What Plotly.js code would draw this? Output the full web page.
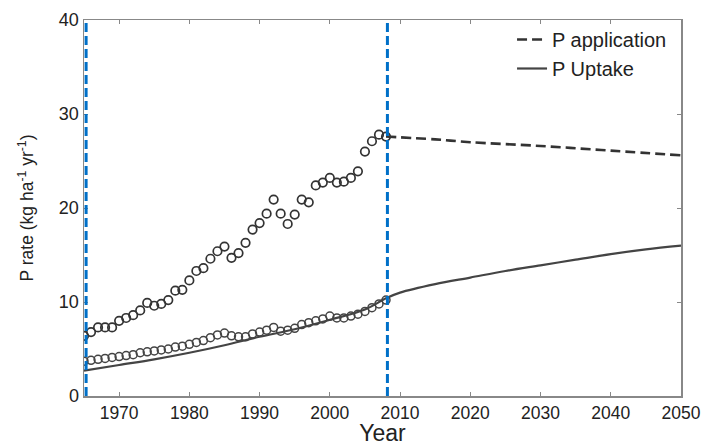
<!DOCTYPE html>
<html>
<head>
<meta charset="utf-8">
<script src="https://cdn.plot.ly/plotly-3.0.1.min.js"></script>
<style>html,body{margin:0;padding:0;background:#fff;}#chart{width:710px;height:446px;}</style>
</head>
<body>
<div id="chart"></div>
<script>
// Observed years
var obsYears = [1965,1966,1967,1968,1969,1970,1971,1972,1973,1974,1975,1976,1977,1978,1979,1980,1981,1982,1983,1984,1985,1986,1987,1988,1989,1990,1991,1992,1993,1994,1995,1996,1997,1998,1999,2000,2001,2002,2003,2004,2005,2006,2007,2008];
// Observed P application (upper circles)
var obsApplication = [6.4,6.8,7.3,7.3,7.3,8.0,8.3,8.6,9.1,9.9,9.6,9.8,10.2,11.2,11.3,12.3,13.3,13.6,14.6,15.4,15.9,14.7,15.2,16.3,17.7,18.4,19.4,20.9,19.4,18.3,19.3,20.9,20.6,22.4,22.7,23.2,22.7,22.8,23.2,23.9,26.0,27.1,27.8,27.6];
// Observed P uptake (lower circles)
var obsUptake = [3.7,3.8,3.9,4.0,4.1,4.2,4.3,4.4,4.6,4.7,4.8,4.9,5.0,5.2,5.3,5.5,5.7,5.9,6.2,6.5,6.7,6.4,6.3,6.3,6.6,6.8,7.0,7.3,6.9,7.0,7.2,7.6,7.8,8.0,8.2,8.5,8.3,8.3,8.5,8.7,9.0,9.4,9.8,10.2];
// Projected P application (dashed)
var projAppYears = [2008,2015,2020,2030,2040,2050];
var projApplication = [27.6,27.3,27.0,26.6,26.1,25.6];
// Modelled P uptake (solid)
var uptakeYears = [1965,1970,1975,1980,1985,1990,1995,2000,2005,2008,2010,2015,2020,2025,2030,2035,2040,2045,2050];
var uptakeModel = [2.7,3.3,3.9,4.6,5.4,6.3,7.1,8.1,9.2,10.4,11.0,11.9,12.6,13.3,13.9,14.5,15.1,15.6,16.0];
// Vertical markers
var markerYears = [1965.3, 2008.2];
var xTicks = [1970,1980,1990,2000,2010,2020,2030,2040,2050];
var yTicks = [0,10,20,30,40];

var font = 'Liberation Sans, Arial, sans-serif';
var traces = [
  {x: obsYears, y: obsApplication, mode: 'markers', type: 'scatter', showlegend: false,
   marker: {symbol: 'circle-open', size: 8.5, color: '#333', line: {width: 1.7, color: '#333'}}},
  {x: obsYears, y: obsUptake, mode: 'markers', type: 'scatter', showlegend: false,
   marker: {symbol: 'circle-open', size: 8, color: '#444', line: {width: 1.5, color: '#444'}}},
  {x: projAppYears, y: projApplication, mode: 'lines', type: 'scatter', name: 'P application',
   line: {color: '#333', width: 2.6, dash: '10px,5px', shape: 'spline'}},
  {x: uptakeYears, y: uptakeModel, mode: 'lines', type: 'scatter', name: 'P Uptake',
   line: {color: '#444', width: 2.2, shape: 'spline'}}
];

var shapes = markerYears.map(function(yr){
  return {type: 'line', xref: 'x', yref: 'paper', x0: yr, x1: yr, y0: 0, y1: 1,
          line: {color: '#0070C8', width: 3, dash: '9px,4px'}};
});

var layout = {
  width: 710, height: 446,
  margin: {l: 84, r: 29, t: 20, b: 50},
  paper_bgcolor: '#fff', plot_bgcolor: '#fff',
  font: {family: font, color: '#222', size: 17},
  showlegend: true,
  legend: {x: 0.985, xanchor: 'right', y: 1.0, yanchor: 'top', bgcolor: 'rgba(0,0,0,0)',
           font: {family: font, size: 20, color: '#222'}, tracegroupgap: 0},
  xaxis: {range: [1965, 2050], tickvals: xTicks, ticks: 'inside', ticklen: 4, tickcolor: '#888',
          showline: true, linecolor: '#888', linewidth: 1.5, mirror: 'ticks', showgrid: false, zeroline: false,
          tickfont: {size: 17.5, color: '#222'},
          title: {text: 'Year', font: {size: 23, color: '#222'}, standoff: 2}},
  yaxis: {range: [0, 40], tickvals: yTicks, ticks: 'inside', ticklen: 4, tickcolor: '#888',
          showline: true, linecolor: '#888', linewidth: 1.5, mirror: 'ticks', showgrid: false, zeroline: false,
          tickfont: {size: 18, color: '#222'},
          title: {text: 'P rate (kg ha<sup>-1</sup> yr<sup>-1</sup>)', font: {size: 17.5, color: '#222'}, standoff: 20}},
  shapes: shapes
};

Plotly.newPlot('chart', traces, layout, {displayModeBar: false, staticPlot: true});
</script>
</body>
</html>
